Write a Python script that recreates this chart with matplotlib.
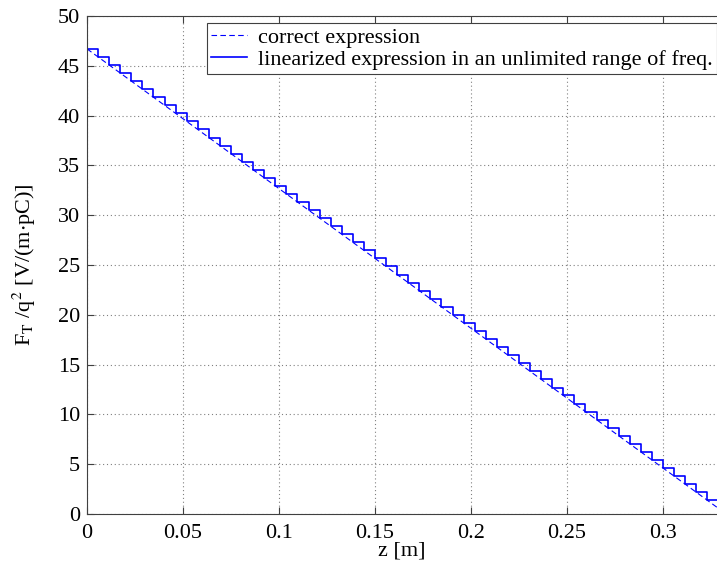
import numpy as np
import matplotlib
matplotlib.use("Agg")
import matplotlib.pyplot as plt

plt.rcParams['font.family'] = 'Liberation Serif'
plt.rcParams['mathtext.fontset'] = 'stix'

# correct expression (straight line)
z_correct = [0.0, 0.3281]
F_correct = [46.70, 0.67]

# linearized expression, one value per step
z_lin = [0.0000, 0.0058, 0.0115, 0.0173, 0.0231, 0.0288, 0.0346, 0.0404,
         0.0462, 0.0519, 0.0577, 0.0635, 0.0692, 0.0750, 0.0808, 0.0865,
         0.0923, 0.0981, 0.1038, 0.1096, 0.1154, 0.1211, 0.1269, 0.1327,
         0.1385, 0.1442, 0.1500, 0.1558, 0.1615, 0.1673, 0.1731, 0.1788,
         0.1846, 0.1904, 0.1961, 0.2019, 0.2077, 0.2135, 0.2192, 0.2250,
         0.2308, 0.2365, 0.2423, 0.2481, 0.2538, 0.2596, 0.2654, 0.2711,
         0.2769, 0.2827, 0.2885, 0.2942, 0.3000, 0.3058, 0.3115, 0.3173,
         0.3231, 0.3288]
F_lin = [46.70, 45.89, 45.08, 44.27, 43.46, 42.65, 41.84, 41.03,
         40.22, 39.42, 38.61, 37.80, 36.99, 36.18, 35.37, 34.56,
         33.75, 32.94, 32.13, 31.32, 30.51, 29.70, 28.89, 28.08,
         27.27, 26.46, 25.66, 24.85, 24.04, 23.23, 22.42, 21.61,
         20.80, 19.99, 19.18, 18.37, 17.56, 16.75, 15.94, 15.13,
         14.32, 13.51, 12.70, 11.90, 11.09, 10.28, 9.47, 8.66,
         7.85, 7.04, 6.23, 5.42, 4.61, 3.80, 2.99, 2.18,
         1.37, 0.56]

xticks = [0, 0.05, 0.1, 0.15, 0.2, 0.25, 0.3]
xtick_labels = ['0', '0.05', '0.1', '0.15', '0.2', '0.25', '0.3']
yticks = [0, 5, 10, 15, 20, 25, 30, 35, 40, 45, 50]

fig = plt.figure(figsize=(7.17, 5.64), dpi=100)
ax = fig.add_axes([87 / 717, 50 / 564, 630 / 717, 498 / 564])

ax.plot(z_correct, F_correct, color='blue', lw=0.8, dashes=(5, 3),
        label='correct expression')
ax.plot(z_lin, F_lin, color='blue', lw=1.2, drawstyle='steps-post',
        label='linearized expression in an unlimited range of freq.')

ax.set_xlim(0, 0.3281)
ax.set_ylim(0, 50)
ax.set_xticks(xticks)
ax.set_xticklabels(xtick_labels)
ax.set_yticks(yticks)
ax.tick_params(direction='in', length=5, labelsize=16, top=True,
               right=False, color='0.25', pad=5)
ax.tick_params(axis='x', pad=7)
for side in ['left', 'bottom', 'top']:
    ax.spines[side].set_color('0.25')
ax.spines['right'].set_visible(False)
ax.grid(True, color='0.5', linestyle=(0, (1, 2.5)), lw=0.8)

ax.set_xlabel('z [m]', fontsize=16, labelpad=-1)
ax.set_ylabel(r'F$_{\mathrm{T}}$ /q$^{2}$ [V/(m$\cdot$pC)]', fontsize=16,
              labelpad=14)

leg = ax.legend(loc='upper left', bbox_to_anchor=(207 / 717, 1 - 23 / 564),
                bbox_transform=fig.transFigure, fontsize=16, fancybox=False,
                framealpha=1, edgecolor='0.25', borderpad=0.2,
                labelspacing=0.05, handlelength=1.6, handletextpad=0.5,
                borderaxespad=0)
leg.get_frame().set_linewidth(0.8)

plt.savefig('out.png', dpi=100)
